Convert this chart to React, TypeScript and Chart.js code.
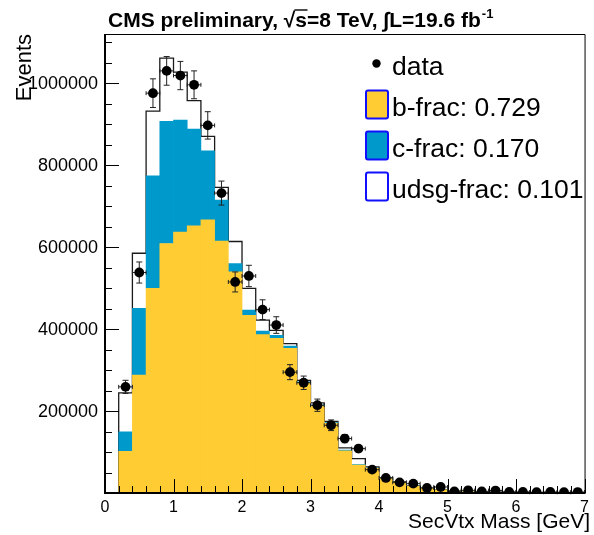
import React, { useEffect, useRef } from "react";
import { Chart, registerables } from "chart.js";

Chart.register(...registerables);

const FONT = '"Liberation Sans", Arial, Helvetica, sans-serif';

// bin centres (GeV), bin width 0.2
const binCenters = [
  0.3, 0.5, 0.7, 0.9, 1.1, 1.3, 1.5, 1.7, 1.9, 2.1, 2.3, 2.5, 2.7, 2.9, 3.1, 3.3, 3.5,
  3.7, 3.9, 4.1, 4.3, 4.5, 4.7, 4.9, 5.1, 5.3, 5.5, 5.7, 5.9, 6.1, 6.3, 6.5, 6.7, 6.9,
];
const binHalfWidth = 0.1;

const bJets = [
  101700, 287600, 499500, 608800, 636500, 652000, 666500, 615000, 539400, 433500, 386300,
  377300, 352800, 268000, 212000, 170000, 103000, 68000, 60000, 35000, 26500, 17000, 11300,
  7500, 4500, 3500, 2800, 2200, 1700, 1300, 1000, 800, 600, 500,
];
const cJets = [
  47300, 163000, 274500, 298200, 273500, 236300, 168500, 99700, 20600, 13000, 8700, 7300,
  5600, 3000, 2500, 2000, 1500, 1200, 800, 500, 400, 300, 200, 150, 100, 80, 60, 50, 40, 30,
  25, 20, 15, 10,
];
const udsgJets = [
  95500, 134400, 158000, 154000, 117000, 69200, 35400, 31000, 53700, 53000, 27000, 12200,
  5900, 3600, 5500, 3000, 5500, 14700, 2800, 1500, 1100, 700, 500, 350, 250, 200, 150, 120,
  100, 80, 60, 50, 40, 30,
];
const dataCounts = [
  259000, 538000, 975600, 1030000, 1018600, 996000, 897000, 731800, 515000, 529600, 447400,
  409800, 294900, 269000, 214200, 165300, 132800, 108300, 57000, 36700, 26000, 22800, 12200,
  14700, 4000, 6500, 4000, 6000, 2500, 2500, 1800, 2500, 1800, 2300,
];
const dataErrors = [
  16000, 25700, 35000, 35000, 34500, 34000, 33400, 29300, 24400, 26000, 24000, 20300, 18300,
  16300, 15000, 13000, 10000, 8000, 5000, 3500, 3000, 2500, 2000, 2000, 1200, 1200, 1000,
  1000, 800, 800, 700, 700, 600, 600,
];

const legendLabels = ["data", "b-frac: 0.729", "c-frac: 0.170", "udsg-frac: 0.101"];
const xTickValues = [0, 1, 2, 3, 4, 5, 6, 7];
const yTickValues = [200000, 400000, 600000, 800000, 1000000];

const YELLOW = "#ffcc33";
const BLUE = "#0099cc";

export default function App() {
  const ref = useRef<HTMLCanvasElement | null>(null);

  useEffect(() => {
    document.body.style.margin = "0";
    const canvas = ref.current;
    if (!canvas) return;

    const totals = binCenters.map((_, i) => bJets[i] + cJets[i] + udsgJets[i]);
    const outline: { x: number; y: number }[] = [];
    outline.push({ x: binCenters[0] - binHalfWidth, y: 0 });
    binCenters.forEach((c, i) => outline.push({ x: c - binHalfWidth, y: totals[i] }));
    const last = binCenters.length - 1;
    outline.push({ x: binCenters[last] + binHalfWidth, y: totals[last] });
    outline.push({ x: binCenters[last] + binHalfWidth, y: 0 });

    const pts = (arr: number[]) => binCenters.map((x, i) => ({ x, y: arr[i] }));

    const extras = {
      id: "rootStyle",
      beforeDatasetDraw(chart: any, args: any) {
        if (args.index !== 4) return;
        const { ctx, scales } = chart;
        const xs = scales.x, ys = scales.y;
        ctx.save();
        ctx.strokeStyle = "#222";
        ctx.lineWidth = 1;
        binCenters.forEach((c, i) => {
          const px = xs.getPixelForValue(c);
          const py = ys.getPixelForValue(dataCounts[i]);
          const x0 = xs.getPixelForValue(c - binHalfWidth);
          const x1 = xs.getPixelForValue(c + binHalfWidth);
          const y0 = ys.getPixelForValue(dataCounts[i] - dataErrors[i]);
          const y1 = ys.getPixelForValue(dataCounts[i] + dataErrors[i]);
          ctx.beginPath();
          ctx.moveTo(x0, py); ctx.lineTo(x1, py);
          ctx.moveTo(x0, py - 2); ctx.lineTo(x0, py + 2);
          ctx.moveTo(x1, py - 2); ctx.lineTo(x1, py + 2);
          ctx.moveTo(px, y0); ctx.lineTo(px, y1);
          ctx.moveTo(px - 3, y0); ctx.lineTo(px + 3, y0);
          ctx.moveTo(px - 3, y1); ctx.lineTo(px + 3, y1);
          ctx.stroke();
        });
        ctx.restore();
      },
      afterDraw(chart: any) {
        const { ctx, chartArea: a, scales } = chart;
        const xs = scales.x, ys = scales.y;
        ctx.save();
        // frame
        ctx.strokeStyle = "#000";
        ctx.lineWidth = 1;
        ctx.beginPath();
        ctx.moveTo(a.left, a.top + 0.5); ctx.lineTo(a.right + 0.5, a.top + 0.5);
        ctx.lineTo(a.right + 0.5, a.bottom);
        ctx.stroke();
        ctx.lineWidth = 2;
        ctx.beginPath();
        ctx.moveTo(a.left, a.top); ctx.lineTo(a.left, a.bottom); ctx.lineTo(a.right + 1, a.bottom);
        ctx.stroke();
        // ticks
        ctx.lineWidth = 1;
        ctx.beginPath();
        for (let v = 0; v <= ys.max + 1; v += 50000) {
          const py = Math.round(ys.getPixelForValue(v)) + 0.5;
          const len = v % 200000 === 0 ? 14 : 7;
          ctx.moveTo(a.left, py); ctx.lineTo(a.left + len, py);
        }
        for (let k = 0; k <= 35; k++) {
          const v = k * 0.2;
          const px = Math.round(xs.getPixelForValue(v)) + 0.5;
          const len = k % 5 === 0 ? 14 : 7;
          ctx.moveTo(px, a.bottom); ctx.lineTo(px, a.bottom - len);
        }
        ctx.stroke();

        ctx.fillStyle = "#000";
        // y tick labels
        ctx.font = "18px " + FONT;
        ctx.textAlign = "right";
        ctx.textBaseline = "middle";
        yTickValues.forEach((v) => {
          ctx.fillText(String(v), a.left - 7, ys.getPixelForValue(v) + 1);
        });

        // title
        ctx.font = "bold 21px " + FONT;
        ctx.textBaseline = "alphabetic";
        ctx.textAlign = "left";
        let tx = 108;
        const ty = 27;
        const put = (t: string) => { ctx.fillText(t, tx, ty); tx += ctx.measureText(t).width; };
        put("CMS preliminary, ");
        put("\u221A");
        const sx = tx;
        put("s");
        ctx.lineWidth = 1.4;
        ctx.beginPath();
        ctx.moveTo(sx - 1, ty - 17); ctx.lineTo(tx + 0.5, ty - 17);
        ctx.stroke();
        put("=8 TeV, ");
        put("\u222B");
        put("L=19.6 fb");
        ctx.font = "bold 13px " + FONT;
        ctx.fillText("-1", tx + 1, ty - 9);

        // axis titles
        ctx.font = "21px " + FONT;
        ctx.textAlign = "right";
        ctx.fillText("SecVtx Mass [GeV]", 590, 528);
        ctx.save();
        ctx.font = "22px " + FONT;
        ctx.translate(31, 34);
        ctx.rotate(-Math.PI / 2);
        ctx.textAlign = "right";
        ctx.fillText("Events", 0, 0);
        ctx.restore();

        // legend
        const lx = 392;
        const rows = [63.5, 104.5, 145.5, 186.5];
        ctx.font = "26.5px " + FONT;
        ctx.textAlign = "left";
        ctx.beginPath();
        ctx.arc(376.5, rows[0], 4.2, 0, Math.PI * 2);
        ctx.fill();
        const fills = [YELLOW, BLUE, "#ffffff"];
        legendLabels.forEach((t, i) => {
          ctx.fillStyle = "#000";
          ctx.fillText(t, lx, rows[i] + 11.5);
          if (i > 0) {
            ctx.fillStyle = fills[i - 1];
            ctx.strokeStyle = "#1010ff";
            ctx.lineWidth = 2;
            ctx.beginPath();
            (ctx as any).roundRect(366, rows[i] - 14, 22, 28, 2);
            ctx.fill();
            ctx.stroke();
          }
        });
        ctx.restore();
      },
    };

    const chart = new Chart(canvas, {
      type: "bar",
      data: {
        datasets: [
          {
            type: "bar", label: "b", data: pts(bJets), backgroundColor: YELLOW,
            borderWidth: 0, stack: "mc", order: 2, barPercentage: 1, categoryPercentage: 1,
          },
          {
            type: "bar", label: "c", data: pts(cJets), backgroundColor: BLUE,
            borderWidth: 0, stack: "mc", order: 2, barPercentage: 1, categoryPercentage: 1,
          },
          {
            type: "bar", label: "udsg", data: pts(udsgJets), backgroundColor: "rgba(255,255,255,0)",
            borderWidth: 0, stack: "mc", order: 2, barPercentage: 1, categoryPercentage: 1,
          },
          {
            type: "line", label: "outline", data: outline, stepped: "before", borderColor: "#1a1a1a",
            borderWidth: 1.3, pointRadius: 0, fill: false, stack: "outline", order: 3,
          },
          {
            type: "scatter", label: "data", data: pts(dataCounts), backgroundColor: "#000",
            borderColor: "#000", pointRadius: 4.9, borderWidth: 0, stack: "data", order: 1,
          },
        ],
      } as any,
      options: {
        responsive: false,
        animation: false,
        devicePixelRatio: 1,
        layout: { padding: { top: 34, right: 9, left: 0, bottom: 0 } },
        plugins: { legend: { display: false }, tooltip: { enabled: false }, title: { display: false } },
        scales: {
          x: {
            type: "linear", min: 0, max: 7, offset: false,
            grid: { display: false, drawTicks: false, offset: false },
            border: { display: false },
            ticks: {
              stepSize: 1, includeBounds: false, maxRotation: 0, padding: 5, color: "#000",
              font: { family: FONT, size: 16 },
              callback: (v: any) => (xTickValues.includes(Number(v)) ? String(v) : ""),
            },
            afterFit: (s: any) => { s.height = 42; },
          },
          y: {
            stacked: true, min: 0, max: 1120000,
            grid: { display: false, drawTicks: false },
            border: { display: false },
            ticks: { display: false, stepSize: 200000 },
            afterFit: (s: any) => { s.width = 105; },
          },
        },
      } as any,
      plugins: [extras],
    });
    return () => chart.destroy();
  }, []);

  return <canvas ref={ref} width={594} height={535} style={{ display: "block" }} />;
}
